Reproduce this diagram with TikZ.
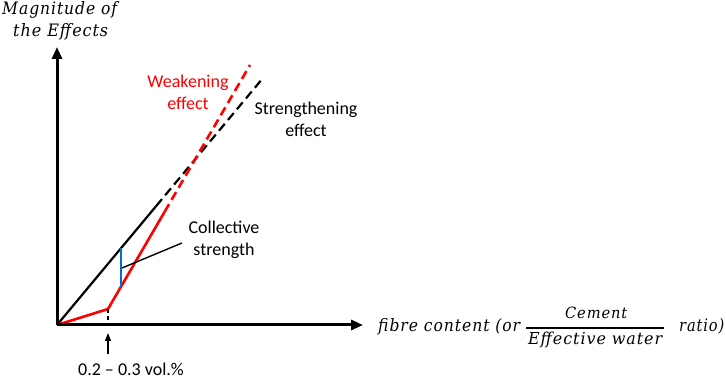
\documentclass[tikz,border=0pt]{standalone}
\usepackage{fontspec}
\setmainfont{Carlito}
\newfontfamily\cambfont[LetterSpace=6]{DejaVu Serif}
\usetikzlibrary{arrows.meta}
\tikzset{
  axisline/.style={line width=3pt,-{Triangle[length=12pt,width=10pt]}},
  blackline/.style={line width=2.2pt,black},
  redline/.style={line width=2.6pt,red},
  dashy/.style={dash pattern=on 9pt off 5pt},
  lbl/.style={font=\fontsize{18}{22}\selectfont,align=center,inner sep=0pt},
  mlbl/.style={inner sep=0pt,font=\cambfont\itshape\fontsize{14}{16}\selectfont},
}
\newcommand{\mfit}[3]{\resizebox{#1}{#2}{#3}}
\begin{document}
\begin{tikzpicture}[x=1pt,y=-1pt]
\useasboundingbox (0,0) rectangle (726,379);
% key points
\coordinate (O) at (57,325);
\coordinate (ytip) at (57,47);
\coordinate (xtip) at (363,325);
\coordinate (K) at (108,309);
\coordinate (Kb) at (108,325);
\coordinate (Bs) at (156.2,206);
\coordinate (Be) at (263,78);
\coordinate (Rs) at (164.5,212);
\coordinate (Re) at (250,65);
\coordinate (Bl1) at (121,248.3);
\coordinate (Bl2) at (121,286.7);
\coordinate (Ann1) at (122,268);
\coordinate (Ann2) at (182,243);
\coordinate (Arr1) at (108,354);
\coordinate (Arr2) at (108,333);
\coordinate (Fb1) at (526,328);
\coordinate (Fb2) at (664,328);
% lines
\draw[blackline] (O) -- (Bs);
\draw[blackline,dashy] (Bs) -- (Be);
\draw[redline] (O) -- (K) -- (Rs);
\draw[redline,dashy] (Rs) -- (Re);
\draw[line width=2pt,color={rgb,255:red,0;green,112;blue,192}] (Bl1) -- (Bl2);
\draw[line width=1.4pt] (Ann1) -- (Ann2);
\draw[line width=1.5pt,dash pattern=on 4pt off 3pt] (K) -- (Kb);
\draw[line width=1.5pt,-{Triangle[length=8pt,width=6pt]}] (Arr1) -- (Arr2);
% axes
\draw[axisline] (O) -- (ytip);
\draw[axisline] (O) -- (xtip);
% labels
\node[mlbl,anchor=base west] (ylab1) at (2,15) {\mfit{115pt}{13pt}{Magnitude of}};
\node[mlbl,anchor=base west] (ylab2) at (13,37) {\mfit{95pt}{13pt}{the Effects}};
\node[lbl,text=red] (weak) at (188,92) {Weakening\\effect};
\node[lbl] (strong) at (306,119) {Strengthening\\effect};
\node[lbl] (coll) at (224,240) {Collective\\strength};
\node[lbl] (vol) at (131,369) {0.2 – 0.3 vol.\%};
\node[mlbl,anchor=base west] (xlab) at (378,332) {\mfit{142pt}{13pt}{fibre content (or}};
\node[mlbl,anchor=base west] (num) at (565,319) {\mfit{62pt}{11.5pt}{Cement}};
\node[mlbl,anchor=base west] (den) at (528,345) {\mfit{134pt}{12.5pt}{Effective water}};
\draw[line width=1.2pt] (Fb1) -- (Fb2);
\node[mlbl,anchor=base west] (ratio) at (679,332) {\mfit{45pt}{13pt}{ratio)}};
\end{tikzpicture}
\end{document}
